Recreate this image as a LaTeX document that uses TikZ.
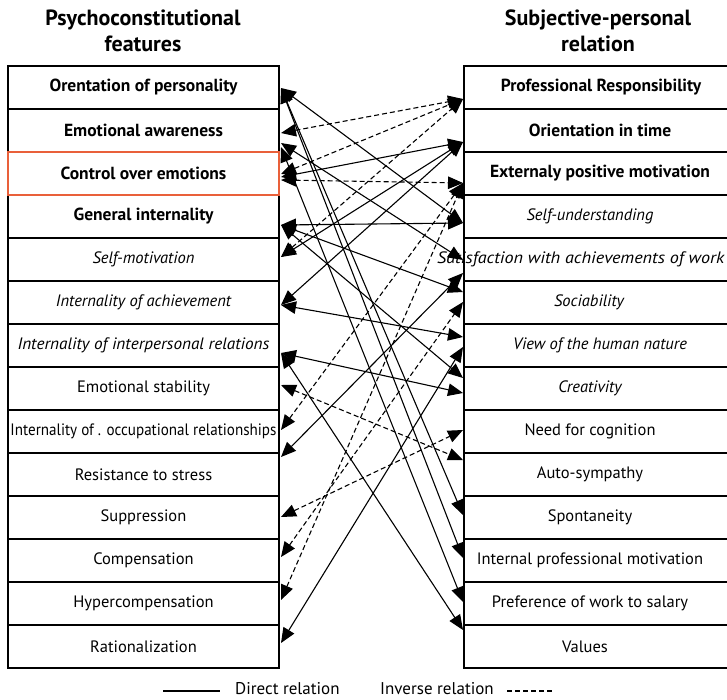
\documentclass[tikz,border=0pt]{standalone}
\usepackage{fontspec}
\usepackage{graphicx}
\setmainfont{PT Sans}
\usetikzlibrary{arrows.meta,calc}
\definecolor{redb}{HTML}{E9603A}
\begin{document}
\begin{tikzpicture}[x=1pt,y=-1pt,
  lbox/.style={draw,line width=1.1pt,minimum width=271pt,minimum height=43pt,inner sep=0pt,font=\fontsize{16.5}{20}\selectfont},
  rbox/.style={draw,line width=1.1pt,minimum width=270pt,minimum height=43pt,inner sep=0pt},
  rtext/.style={font=\fontsize{16.5}{20}\selectfont,inner sep=0pt},
  bt/.style={font=\fontsize{17.5}{20}\selectfont\bfseries},
  head/.style={align=center,font=\fontsize{22}{26}\selectfont\bfseries},
  rel/.style={{Triangle[length=15pt,width=12.5pt]}-{Triangle[length=15pt,width=12.5pt]},line width=1.1pt},
  inv/.style={rel,dash pattern=on 5pt off 3pt},
  leg/.style={font=\fontsize{17}{20}\selectfont,inner sep=0pt}]
\useasboundingbox (0,0) rectangle (727,699);

\node[head] (h1) at (143,31) {Psychoconstitutional\\features};
\node[head] (h2) at (598,31) {Subjective-personal\\relation};

% left column
\node[lbox,bt] (L1) at (143.5,87.5) {Orentation of personality};
\node[lbox,bt] (L2) at (143.5,130.5) {Emotional awareness};
\node[lbox,bt] (L4) at (143.5,216.5) {General internality};
\node[lbox] (L5) at (143.5,259.5) {\itshape Self-motivation};
\node[lbox] (L6) at (143.5,302.5) {\itshape Internality of achievement};
\node[lbox] (L7) at (143.5,345.5) {\resizebox{252pt}{\height}{\itshape Internality of interpersonal relations}};
\node[lbox] (L8) at (143.5,388.5) {Emotional stability};
\node[lbox] (L9) at (143.5,431.5) {\resizebox{266pt}{\height}{Internality of . occupational relationships}};
\node[lbox] (L10) at (143.5,474.5) {Resistance to stress};
\node[lbox] (L11) at (143.5,517.5) {Suppression};
\node[lbox] (L12) at (143.5,560.5) {Compensation};
\node[lbox] (L13) at (143.5,603.5) {Hypercompensation};
\node[lbox] (L14) at (143.5,646.5) {Rationalization};
\node[lbox,bt,draw=redb] (L3) at (143.5,173.5) {Control over emotions};

% right column
\foreach \i/\y in {1/87.5,2/130.5,3/173.5,4/216.5,5/259.5,6/302.5,7/345.5,8/388.5,9/431.5,10/474.5,11/517.5,12/560.5,13/603.5,14/646.5}
  \node[rbox] (RB\i) at (599,\y) {};
\node[rtext,bt] (R1) at (601,87.5) {Professional Responsibility};
\node[rtext,bt] (R2) at (600,130.5) {Orientation in time};
\node[rtext,bt] (R3) at (600,173.5) {Externaly positive motivation};
\node[rtext] (R4) at (590,216.5) {\itshape Self-understanding};
\node[rtext,anchor=west] (R5) at (437,259.5) {\resizebox{287pt}{\height}{\itshape Satisfaction with achievements of work}};
\node[rtext] (R6) at (589,302.5) {\itshape Sociability};
\node[rtext] (R7) at (600,345.5) {\itshape View of the human nature};
\node[rtext] (R8) at (590,388.5) {\itshape Creativity};
\node[rtext] (R9) at (590,431.5) {Need for cognition};
\node[rtext] (R10) at (590,474.5) {Auto-sympathy};
\node[rtext] (R11) at (590,517.5) {Spontaneity};
\node[rtext] (R12) at (590,560.5) {Internal professional motivation};
\node[rtext] (R13) at (590,603.5) {Preference of work to salary};
\node[rtext] (R14) at (585,646.5) {Values};

% connector end points
\coordinate (l1) at (281,88);
\coordinate (l2a) at (281,133);
\coordinate (l2b) at (281,143);
\coordinate (l2c) at (281,147);
\coordinate (l3a) at (281,174);
\coordinate (l3b) at (281,177);
\coordinate (l3c) at (281,180);
\coordinate (l4) at (281,225);
\coordinate (l5) at (281,257);
\coordinate (l6) at (281,305);
\coordinate (l7) at (281,353);
\coordinate (l8) at (281,385);
\coordinate (l9) at (281,430);
\coordinate (l10) at (281,457);
\coordinate (l11) at (281,517);
\coordinate (l12) at (281,557);
\coordinate (l13) at (281,600);
\coordinate (l14) at (281,643);
\coordinate (r1) at (463,99);
\coordinate (r2) at (463,142);
\coordinate (r3) at (463,183);
\coordinate (r4) at (463,223);
\coordinate (r5a) at (463,260);
\coordinate (r5b) at (463,273);
\coordinate (r6a) at (463,292);
\coordinate (r6b) at (463,302);
\coordinate (r7a) at (463,337);
\coordinate (r7b) at (463,347);
\coordinate (r8a) at (463,378);
\coordinate (r8b) at (463,393);
\coordinate (r9) at (463,430);
\coordinate (r10) at (463,460);
\coordinate (r11) at (463,515);
\coordinate (r12) at (463,558);
\coordinate (r13) at (463,602);
\coordinate (r14) at (463,630);

% direct relations
\draw[rel] (l1) -- (r4);
\draw[rel] (l1) -- (r11);
\draw[rel] (l1) -- (r12);
\draw[rel] (l2b) -- (r5a);
\draw[rel] (l2c) -- (r13);
\draw[rel] (l3b) -- (r2);
\draw[rel] (l4) -- (r4);
\draw[rel] (l4) -- (r6a);
\draw[rel] (l4) -- (r8a);
\draw[rel] (l5) -- (r2);
\draw[rel] (l6) -- (r2);
\draw[rel] (l6) -- (r7a);
\draw[rel] (l7) -- (r8b);
\draw[rel] (l7) -- (r14);
\draw[rel] (l10) -- (r5b);
\draw[rel] (l14) -- (r7b);
% inverse relations
\draw[inv] (l2a) -- (r1);
\draw[inv] (l3a) -- (r1);
\draw[inv] (l5) -- (r1);
\draw[inv] (l3c) -- (r3);
\draw[inv] (l9) -- (r3);
\draw[inv] (l13) -- (r3);
\draw[inv] (l12) -- (r6b);
\draw[inv] (l11) -- (r9);
\draw[inv] (l8) -- (r10);

% legend
\coordinate (d1) at (163,691);
\coordinate (d2) at (220,691);
\draw[line width=1.1pt] (d1) -- (d2);
\node[leg,anchor=west] (dl) at (235,689) {Direct relation};
\node[leg,anchor=west] (il) at (380,689) {Inverse relation};
\coordinate (i1) at (507,691);
\coordinate (i2) at (552,691);
\draw[line width=1.1pt,dash pattern=on 5pt off 3pt] (i1) -- (i2);
\end{tikzpicture}
\end{document}
